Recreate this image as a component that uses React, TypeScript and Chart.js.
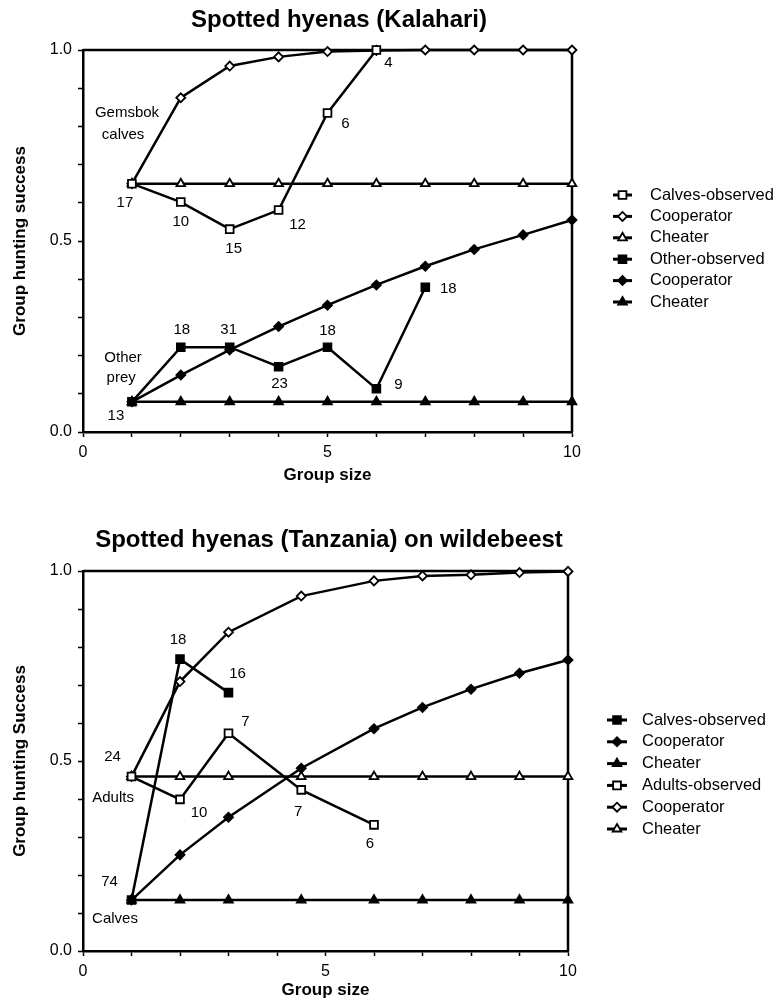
import React, { useEffect, useRef } from 'react';
import { Chart, registerables } from 'chart.js';
import { drawPoint } from 'chart.js/helpers';

Chart.register(...registerables);

const FONT = "'Liberation Sans', Arial, Helvetica, sans-serif";

// ---------- Kalahari data ----------
const kalahariSizes = [1, 2, 3, 4, 5, 6, 7, 8, 9, 10];
const calvesObservedSizes = [1, 2, 3, 4, 5, 6];
const calvesObserved = [0.65, 0.602, 0.531, 0.581, 0.835, 1.0];
const calvesObservedN = [17, 10, 15, 12, 6, 4];
const calvesCooperator = [0.65, 0.875, 0.958, 0.982, 0.996, 0.999, 1.0, 1.0, 1.0, 1.0];
const calvesCheater = [0.65, 0.65, 0.65, 0.65, 0.65, 0.65, 0.65, 0.65, 0.65, 0.65];
const otherObservedSizes = [1, 2, 3, 4, 5, 6, 7];
const otherObserved = [0.079, 0.222, 0.222, 0.171, 0.222, 0.113, 0.379];
const otherObservedN = [13, 18, 31, 23, 18, 9, 18];
const otherCooperator = [0.079, 0.149, 0.215, 0.276, 0.332, 0.385, 0.434, 0.478, 0.516, 0.555];
const otherCheater = [0.079, 0.079, 0.079, 0.079, 0.079, 0.079, 0.079, 0.079, 0.079, 0.079];

// ---------- Tanzania data ----------
const tanzaniaSizes = [1, 2, 3, 4.5, 6, 7, 8, 9, 10];
const tzCalvesObservedSizes = [1, 2, 3];
const tzCalvesObserved = [0.134, 0.768, 0.68];
const tzCalvesObservedN = [74, 18, 16];
const tzCalvesCooperator = [0.134, 0.253, 0.352, 0.481, 0.585, 0.641, 0.689, 0.731, 0.766];
const tzCalvesCheater = [0.134, 0.134, 0.134, 0.134, 0.134, 0.134, 0.134, 0.134, 0.134];
const tzAdultsObservedSizes = [1, 2, 3, 4.5, 6];
const tzAdultsObserved = [0.459, 0.399, 0.573, 0.424, 0.332];
const tzAdultsObservedN = [24, 10, 7, 7, 6];
const tzAdultsCooperator = [0.459, 0.709, 0.839, 0.934, 0.974, 0.987, 0.99, 0.996, 0.999];
const tzAdultsCheater = [0.459, 0.459, 0.459, 0.459, 0.459, 0.459, 0.459, 0.459, 0.459];

// ---------- labels ----------
const kalahariLegend = ['Calves-observed', 'Cooperator', 'Cheater', 'Other-observed', 'Cooperator', 'Cheater'];
const tanzaniaLegend = ['Calves-observed', 'Cooperator', 'Cheater', 'Adults-observed', 'Cooperator', 'Cheater'];
const xTickLabels = ['0', '5', '10'];
const yTickLabels = ['0.0', '0.5', '1.0'];

// label offsets (pixels, from the point) – styling only
const calvesNOffsets = [[-7, 19], [0, 20], [4, 20], [19, 15], [18, 11], [12, 13]];
const otherNOffsets = [[-16, 14], [1, -17], [-1, -17], [1, 17], [0, -16], [22, -4], [23, 2]];
const tzCalvesNOffsets = [[-22, -18], [-2, -19], [9, -19]];
const tzAdultsNOffsets = [[-19, -20], [19, 13], [17, -11], [-3, 22], [-4, 19]];

const zip = (xs: number[], ys: number[]) => ys.map((y, i) => ({ x: xs[i], y }));

type Mk = { style: string; open: boolean; r: number };

function ds(label: string, xs: number[], ys: number[], mk: Mk) {
  return {
    label,
    data: zip(xs, ys),
    borderColor: '#000',
    borderWidth: 2.5,
    pointStyle: mk.style,
    pointRadius: mk.r,
    pointBackgroundColor: mk.open ? '#fff' : '#000',
    pointBorderColor: '#000',
    pointBorderWidth: 1.8,
    tension: 0,
    clip: false as const,
    _open: mk.open,
    _r: mk.r,
  };
}

function makeDeco(cfg: any) {
  return {
    id: 'deco',
    beforeDatasetsDraw(chart: any) {
      const { ctx, chartArea: a } = chart;
      ctx.save();
      ctx.strokeStyle = '#000';
      ctx.lineWidth = 2.5;
      ctx.beginPath();
      ctx.moveTo(a.left, a.top);
      ctx.lineTo(a.right, a.top);
      ctx.lineTo(a.right, a.bottom);
      ctx.stroke();
      ctx.restore();
    },
    afterDraw(chart: any) {
      const { ctx, scales } = chart;
      const xs = scales.x;
      const ys = scales.y;
      ctx.save();
      ctx.fillStyle = '#000';
      ctx.font = `bold 24px ${FONT}`;
      ctx.textAlign = 'center';
      ctx.textBaseline = 'middle';
      ctx.fillText(cfg.title, cfg.titleX, cfg.titleY);

      ctx.font = `15px ${FONT}`;
      for (const ann of cfg.annotations) {
        const meta = chart.getDatasetMeta(ann.dataset);
        meta.data.forEach((pt: any, i: number) => {
          const off = ann.offsets[i];
          ctx.fillText(String(ann.values[i]), pt.x + off[0], pt.y + off[1]);
        });
      }
      for (const t of cfg.texts) {
        ctx.fillText(t.text, xs.getPixelForValue(t.x), ys.getPixelForValue(t.y));
      }

      const lg = cfg.legend;
      chart.data.datasets.forEach((d: any, i: number) => {
        const y = lg.y0 + i * lg.dy;
        ctx.strokeStyle = '#000';
        ctx.lineWidth = 3;
        ctx.beginPath();
        ctx.moveTo(lg.lineX0, y);
        ctx.lineTo(lg.lineX1, y);
        ctx.stroke();
        ctx.fillStyle = d._open ? '#fff' : '#000';
        ctx.strokeStyle = '#000';
        ctx.lineWidth = 1.8;
        drawPoint(ctx, { pointStyle: d.pointStyle, rotation: 0, radius: d._r, borderWidth: 1.8 }, (lg.lineX0 + lg.lineX1) / 2, y);
        ctx.fillStyle = '#000';
        ctx.font = `16.5px ${FONT}`;
        ctx.textAlign = 'left';
        ctx.textBaseline = 'middle';
        ctx.fillText(d.label, lg.textX, y);
      });
      ctx.restore();
    },
  };
}

function makeOptions(cfg: any) {
  return {
    responsive: false,
    animation: false,
    events: [],
    layout: { padding: { top: cfg.top, right: cfg.right, left: 0, bottom: 0 } },
    plugins: {
      legend: { display: false },
      tooltip: { enabled: false },
      title: { display: false },
    },
    scales: {
      x: {
        type: 'linear',
        min: 0,
        max: 10,
        afterFit: (s: any) => { s.height = cfg.xHeight; },
        ticks: {
          stepSize: 1,
          autoSkip: false,
          maxRotation: 0,
          padding: 6,
          color: '#000',
          font: { family: FONT, size: 16 },
          callback: (v: number) => (v % 5 === 0 ? xTickLabels[v / 5] : ''),
        },
        grid: { drawOnChartArea: false, drawTicks: true, tickLength: 5, tickColor: '#000', tickWidth: 1.5 },
        border: { display: true, color: '#000', width: 2.5 },
        title: {
          display: true,
          text: 'Group size',
          color: '#000',
          font: { family: FONT, size: 17, weight: 'bold' },
          padding: { top: 0, bottom: cfg.xTitlePad },
        },
      },
      y: {
        type: 'linear',
        min: 0,
        max: 1,
        afterFit: (s: any) => { s.width = 83; },
        ticks: {
          stepSize: 0.1,
          autoSkip: false,
          padding: 6,
          color: '#000',
          font: { family: FONT, size: 16 },
          callback: (v: number) => {
            const r = Math.round(v * 10);
            return r % 5 === 0 ? yTickLabels[r / 5] : '';
          },
        },
        grid: { drawOnChartArea: false, drawTicks: true, tickLength: 5, tickColor: '#000', tickWidth: 1.5 },
        border: { display: true, color: '#000', width: 2.5 },
        title: {
          display: true,
          text: cfg.yTitle,
          color: '#000',
          font: { family: FONT, size: 17, weight: 'bold' },
          padding: { top: 10, bottom: 0 },
        },
      },
    },
  };
}

const SQ: Mk = { style: 'rect', open: false, r: 5.5 };
const SQO: Mk = { style: 'rect', open: true, r: 5.5 };
const DI: Mk = { style: 'rectRot', open: false, r: 4.5 };
const DIO: Mk = { style: 'rectRot', open: true, r: 4.5 };
const TR: Mk = { style: 'triangle', open: false, r: 5 };
const TRO: Mk = { style: 'triangle', open: true, r: 5 };

function useChart(ref: React.RefObject<HTMLCanvasElement | null>, build: () => any) {
  useEffect(() => {
    if (!ref.current) return;
    const chart = new Chart(ref.current, build());
    return () => chart.destroy();
  }, []);
}

export default function App() {
  const topRef = useRef<HTMLCanvasElement | null>(null);
  const botRef = useRef<HTMLCanvasElement | null>(null);

  useChart(topRef, () => ({
    type: 'line',
    data: {
      datasets: [
        ds(kalahariLegend[0], calvesObservedSizes, calvesObserved, SQO),
        ds(kalahariLegend[1], kalahariSizes, calvesCooperator, DIO),
        ds(kalahariLegend[2], kalahariSizes, calvesCheater, TRO),
        ds(kalahariLegend[3], otherObservedSizes, otherObserved, SQ),
        ds(kalahariLegend[4], kalahariSizes, otherCooperator, DI),
        ds(kalahariLegend[5], kalahariSizes, otherCheater, TR),
      ],
    },
    options: makeOptions({
      top: 50,
      right: 208,
      xHeight: 69,
      xTitlePad: 15,
      yTitle: 'Group hunting success',
    }),
    plugins: [
      makeDeco({
        title: 'Spotted hyenas (Kalahari)',
        titleX: 339,
        titleY: 20,
        annotations: [
          { dataset: 0, values: calvesObservedN, offsets: calvesNOffsets },
          { dataset: 3, values: otherObservedN, offsets: otherNOffsets },
        ],
        texts: [
          { text: 'Gemsbok', x: 0.9, y: 0.835 },
          { text: 'calves', x: 0.82, y: 0.777 },
          { text: 'Other', x: 0.82, y: 0.193 },
          { text: 'prey', x: 0.78, y: 0.141 },
        ],
        legend: { y0: 195, dy: 21.4, lineX0: 613, lineX1: 632, textX: 650 },
      }),
    ],
  }));

  useChart(botRef, () => ({
    type: 'line',
    data: {
      datasets: [
        ds(tanzaniaLegend[0], tzCalvesObservedSizes, tzCalvesObserved, SQ),
        ds(tanzaniaLegend[1], tanzaniaSizes, tzCalvesCooperator, DI),
        ds(tanzaniaLegend[2], tanzaniaSizes, tzCalvesCheater, TR),
        ds(tanzaniaLegend[3], tzAdultsObservedSizes, tzAdultsObserved, SQO),
        ds(tanzaniaLegend[4], tanzaniaSizes, tzAdultsCooperator, DIO),
        ds(tanzaniaLegend[5], tanzaniaSizes, tzAdultsCheater, TRO),
      ],
    },
    options: makeOptions({
      top: 70,
      right: 212,
      xHeight: 51,
      xTitlePad: 1,
      yTitle: 'Group hunting Success',
    }),
    plugins: [
      makeDeco({
        title: 'Spotted hyenas (Tanzania) on wildebeest',
        titleX: 329,
        titleY: 39,
        annotations: [
          { dataset: 0, values: tzCalvesObservedN, offsets: tzCalvesNOffsets },
          { dataset: 3, values: tzAdultsObservedN, offsets: tzAdultsNOffsets },
        ],
        texts: [
          { text: 'Adults', x: 0.62, y: 0.403 },
          { text: 'Calves', x: 0.66, y: 0.084 },
        ],
        legend: { y0: 219, dy: 21.8, lineX0: 607, lineX1: 627, textX: 642 },
      }),
    ],
  }));

  return (
    <div style={{ position: 'absolute', left: 0, top: 0, width: 780, height: 1002, background: '#fff' }}>
      <canvas ref={topRef} width={780} height={501} style={{ display: 'block', width: 780, height: 501 }} />
      <canvas ref={botRef} width={780} height={501} style={{ display: 'block', width: 780, height: 501 }} />
    </div>
  );
}
